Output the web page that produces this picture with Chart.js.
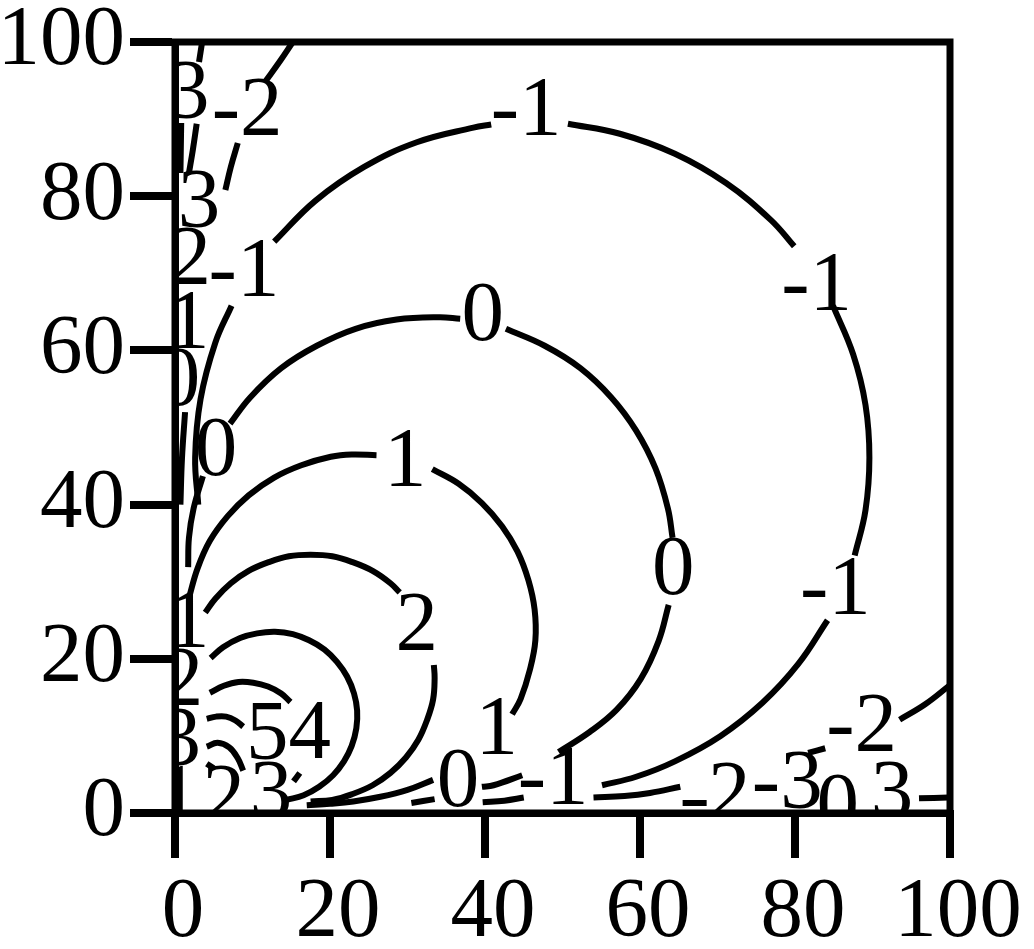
<!DOCTYPE html>
<html>
<head>
<meta charset="utf-8">
<script src="https://cdn.jsdelivr.net/npm/chart.js@4"></script>
<style>
html, body { margin: 0; padding: 0; background: #fff; }
#wrap { width: 1034px; height: 949px; }
</style>
</head>
<body>
<div id="wrap"><canvas id="chart"></canvas></div>
<script>
var ink = "#000"
var serif = "'Liberation Serif', 'Times New Roman', serif"

// contour lines, null = gap where a label sits
const contourM2X = [15.2, 13.6, 11.6, null, 8.1, 7.2, 6.5, null, 100, 96.8, 93.5, null, 83.9, 81.7]
const contourM2Y = [100, 97.6, 94.8, null, 86.9, 83.8, 80.8, null, 16.6, 14.1, 12.1, null, 8.4, 7.8]

const contourM1X = [3.0, 2.6, 3.3, 5.2, 7.3, null, 12.8, 18.1, 24.4, 31.2, 38.5, 40.8, null, 50.7, 57.4, 64.5, 71.1, 76.9, 79.9, null, 84.9, 87.5, 89.1, 89.6, 89.1, 87.7, null, 84.2, 80.4, 75.8, 70.4, 64.5, 59.5, 55.1]
const contourM1Y = [40.0, 46.1, 53.7, 61.0, 65.8, null, 74.1, 79.4, 83.8, 87.0, 88.9, 89.3, null, 89.4, 88.1, 85.5, 81.7, 76.9, 73.5, null, 65.8, 59.5, 52.9, 46.1, 39.3, 33.4, null, 25.0, 19.3, 14.3, 10.0, 6.7, 4.7, 3.6]

const contour0X = [1.7, 1.8, 2.4, 3.6, null, 7.1, 9.7, 13.7, 18.3, 23.3, 28.6, 34.1, 36.8, null, 42.7, 47.7, 52.3, 56.3, 59.5, 62.0, 63.6, 64.2, null, 63.7, 62.4, 60.1, 57.0, 53.5, 49.5, null, 44.8, 41.1, 39.6, null, 33.5, 30.5]
const contour0Y = [31.9, 35.7, 39.5, 43.7, null, 50.5, 53.9, 57.7, 60.6, 62.8, 64.0, 64.3, 64.1, null, 62.8, 60.6, 57.7, 53.9, 49.6, 44.7, 39.5, 35.7, null, 27.0, 22.3, 17.4, 13.4, 10.5, 7.9, null, 4.9, 3.6, 3.4, null, 1.8, 1.3]

const contour1X = [1.8, 2.9, 4.5, 6.8, 9.5, 12.8, 16.3, 20.1, 22.8, 26.0, null, 33.2, 36.6, 39.6, 42.2, 44.2, 45.6, 46.4, 46.5, 45.8, 44.6, 43.5, null, 33.3, 30.0, 26.5, 23.0, 20.0, 17.0]
const contour1Y = [27.9, 31.7, 35.3, 38.5, 41.2, 43.5, 45.1, 46.2, 46.5, 46.4, null, 44.6, 42.7, 40.2, 37.2, 33.9, 30.2, 26.4, 22.4, 18.6, 14.8, 12.8, null, 4.3, 3.0, 2.1, 1.5, 1.2, 1.0]

const contour2X = [3.9, 5.2, 7.2, 9.5, 12.0, 14.7, 17.5, 20.3, 23.0, 25.5, 27.8, 29.0, null, 33.4, 33.5, 33.3, 32.5, 31.4, 29.8, 27.8, 25.5, 23.0, 20.3, 17.5]
const contour2Y = [26.0, 27.8, 29.8, 31.4, 32.5, 33.3, 33.5, 33.3, 32.5, 31.4, 29.8, 28.6, null, 19.2, 17.5, 14.7, 12.0, 9.5, 7.2, 5.2, 3.6, 2.5, 1.7, 1.5]

const contour3X = [4.6, 6.2, 8.4, 10.6, 12.9, 15.2, 17.3, 19.3, 20.9, 22.2, 23.1, 23.5, 23.4, 22.8, 21.8, 20.4, 18.6, 16.6, 14.4]
const contour3Y = [20.1, 21.5, 22.7, 23.3, 23.5, 23.2, 22.4, 21.2, 19.6, 17.7, 15.5, 13.3, 11.0, 8.7, 6.7, 4.9, 3.4, 2.3, 1.7]

const contour4X = [4.5, 6.3, 8.2, 10.1, 12.0, 13.7, 14.9, null, 16.1, 15.3]
const contour4Y = [15.6, 16.5, 17.0, 16.9, 16.4, 15.5, 14.4, null, 5.2, 4.1]

const contour5X = [4.1, 5.3, 6.6, 7.8, 8.8]
const contour5Y = [12.2, 12.5, 12.5, 12.0, 11.2]

const contour6X = [4.1, 5.5, 7.0, 8.1, 8.8]
const contour6Y = [8.6, 9.1, 8.5, 7.1, 5.5]

const contour7X = [4.1, 5.0]
const contour7Y = [6.4, 5.8]

// lines squeezed against the axes
const edgeLeftX = [3.5, 3.1, null, 2.8, 2.3, 1.8, null, 0.8, 0.7, null, 1.3, 0.9, 0.7]
const edgeLeftY = [100, 97.4, null, 89.4, 86.0, 83.0, null, 89.5, 83.0, null, 52.0, 46.0, 40.0]

const edgeBottomX = [54, 58, 61.3, 65.2, null, 65.5, 68.6, null, 96, 99.8, null, 39.7, 42.5, 45.0]
const edgeBottomY = [2.0, 2.2, 2.6, 3.4, null, 1.3, 1.3, null, 1.9, 2.0, null, 1.4, 1.6, 2.0]

// inline contour labels
const labelText = ["3", "-2", "3", "2", "-1", "1", "0", "0", "1", "2", "3", "1", "2", "3", "5", "4",
    "-1", "0", "-1", "1", "0", "-1", "2", "1", "-2", "0", "-1", "2", "-3", "0", "3"]
const labelX = [1.7, 9.3, 3.1, 1.9, 8.9, 1.7, 0.5, 5.3, 1.7, 0.9, 0.6, 0.4, 6.3, 12.4, 11.9, 17.4,
    45.3, 39.7, 82.8, 29.7, 64.3, 85.2, 31.2, 41.5, 88.6, 36.5, 48.8, 71.5, 79.0, 85.5, 92.5]
const labelY = [93.0, 90.8, 78.9, 71.5, 70.0, 63.2, 55.8, 46.8, 24.4, 16.9, 9.1, 1.7, 1.7, 2.3, 9.9, 10.0,
    90.8, 64.3, 68.1, 45.3, 31.3, 28.7, 24.0, 10.6, 11.0, 3.8, 4.0, 2.1, 3.5, 0.6, 2.3]

const tickValues = [0, 20, 40, 60, 80, 100]

function pts(xs, ys) {
    return xs.map((x, i) => ({ x: x, y: ys[i] }))
}

const lines = [
    [contourM2X, contourM2Y],
    [contourM1X, contourM1Y],
    [contour0X, contour0Y],
    [contour1X, contour1Y],
    [contour2X, contour2Y],
    [contour3X, contour3Y],
    [contour4X, contour4Y],
    [contour5X, contour5Y],
    [contour6X, contour6Y],
    [contour7X, contour7Y],
    [edgeLeftX, edgeLeftY],
    [edgeBottomX, edgeBottomY],
]

const data = {
    datasets: lines.map(l => ({
        data: pts(l[0], l[1]),
        showLine: true,
        borderColor: ink,
        borderWidth: 6,
        pointRadius: 0,
        tension: 0.4,
        spanGaps: false,
    }))
}

const contourLabels = {
    id: 'contourLabels',
    afterDatasetsDraw(chart) {
        const ctx = chart.ctx
        const a = chart.chartArea
        ctx.save()
        ctx.beginPath()
        ctx.rect(a.left, a.top, a.right - a.left, a.bottom - a.top)
        ctx.clip()
        ctx.fillStyle = ink
        ctx.font = "85px " + serif
        ctx.textAlign = "center"
        ctx.textBaseline = "middle"
        labelText.forEach((t, i) => {
            ctx.fillText(t, chart.scales.x.getPixelForValue(labelX[i]), chart.scales.y.getPixelForValue(labelY[i]))
        })
        ctx.restore()
    }
}

const frame = {
    id: 'frame',
    afterDraw(chart) {
        const ctx = chart.ctx
        const a = chart.chartArea
        ctx.save()
        ctx.strokeStyle = ink
        ctx.lineWidth = 7
        ctx.strokeRect(a.left, a.top, a.right - a.left, a.bottom - a.top)
        ctx.restore()
    }
}

const tickFont = { family: serif, size: 85, lineHeight: 1 }

const options = {
    animation: false,
    responsive: true,
    maintainAspectRatio: false,
    layout: {
        padding: { left: 0, right: 84, top: 42, bottom: 0 }
    },
    scales: {
        x: {
            type: 'linear',
            min: 0,
            max: 100,
            afterBuildTicks: s => { s.ticks = tickValues.map(v => ({ value: v })) },
            afterFit: s => { s.height = 136; s.paddingLeft = 0; s.paddingRight = 0 },
            ticks: { color: ink, font: tickFont, padding: 13, labelOffset: 8, autoSkip: false, maxRotation: 0 },
            grid: { display: true, drawOnChartArea: false, drawTicks: true, tickLength: 45, tickWidth: 8, tickColor: ink, color: ink, lineWidth: 8 },
            border: { display: true, width: 7, color: ink },
        },
        y: {
            type: 'linear',
            min: 0,
            max: 100,
            afterBuildTicks: s => { s.ticks = tickValues.map(v => ({ value: v })) },
            afterFit: s => { s.width = 175; s.paddingTop = 0; s.paddingBottom = 0 },
            ticks: { color: ink, font: tickFont, padding: 5, autoSkip: false },
            grid: { display: true, drawOnChartArea: false, drawTicks: true, tickLength: 45, tickWidth: 8, tickColor: ink, color: ink, lineWidth: 8 },
            border: { display: true, width: 7, color: ink },
        }
    },
    plugins: {
        legend: { display: false },
        tooltip: { enabled: false },
    },
}

const chart = new Chart(
    document.getElementById('chart'),
    {
        type: 'scatter',
        data: data,
        options: options,
        plugins: [contourLabels, frame],
    }
)
</script>
</body>
</html>
